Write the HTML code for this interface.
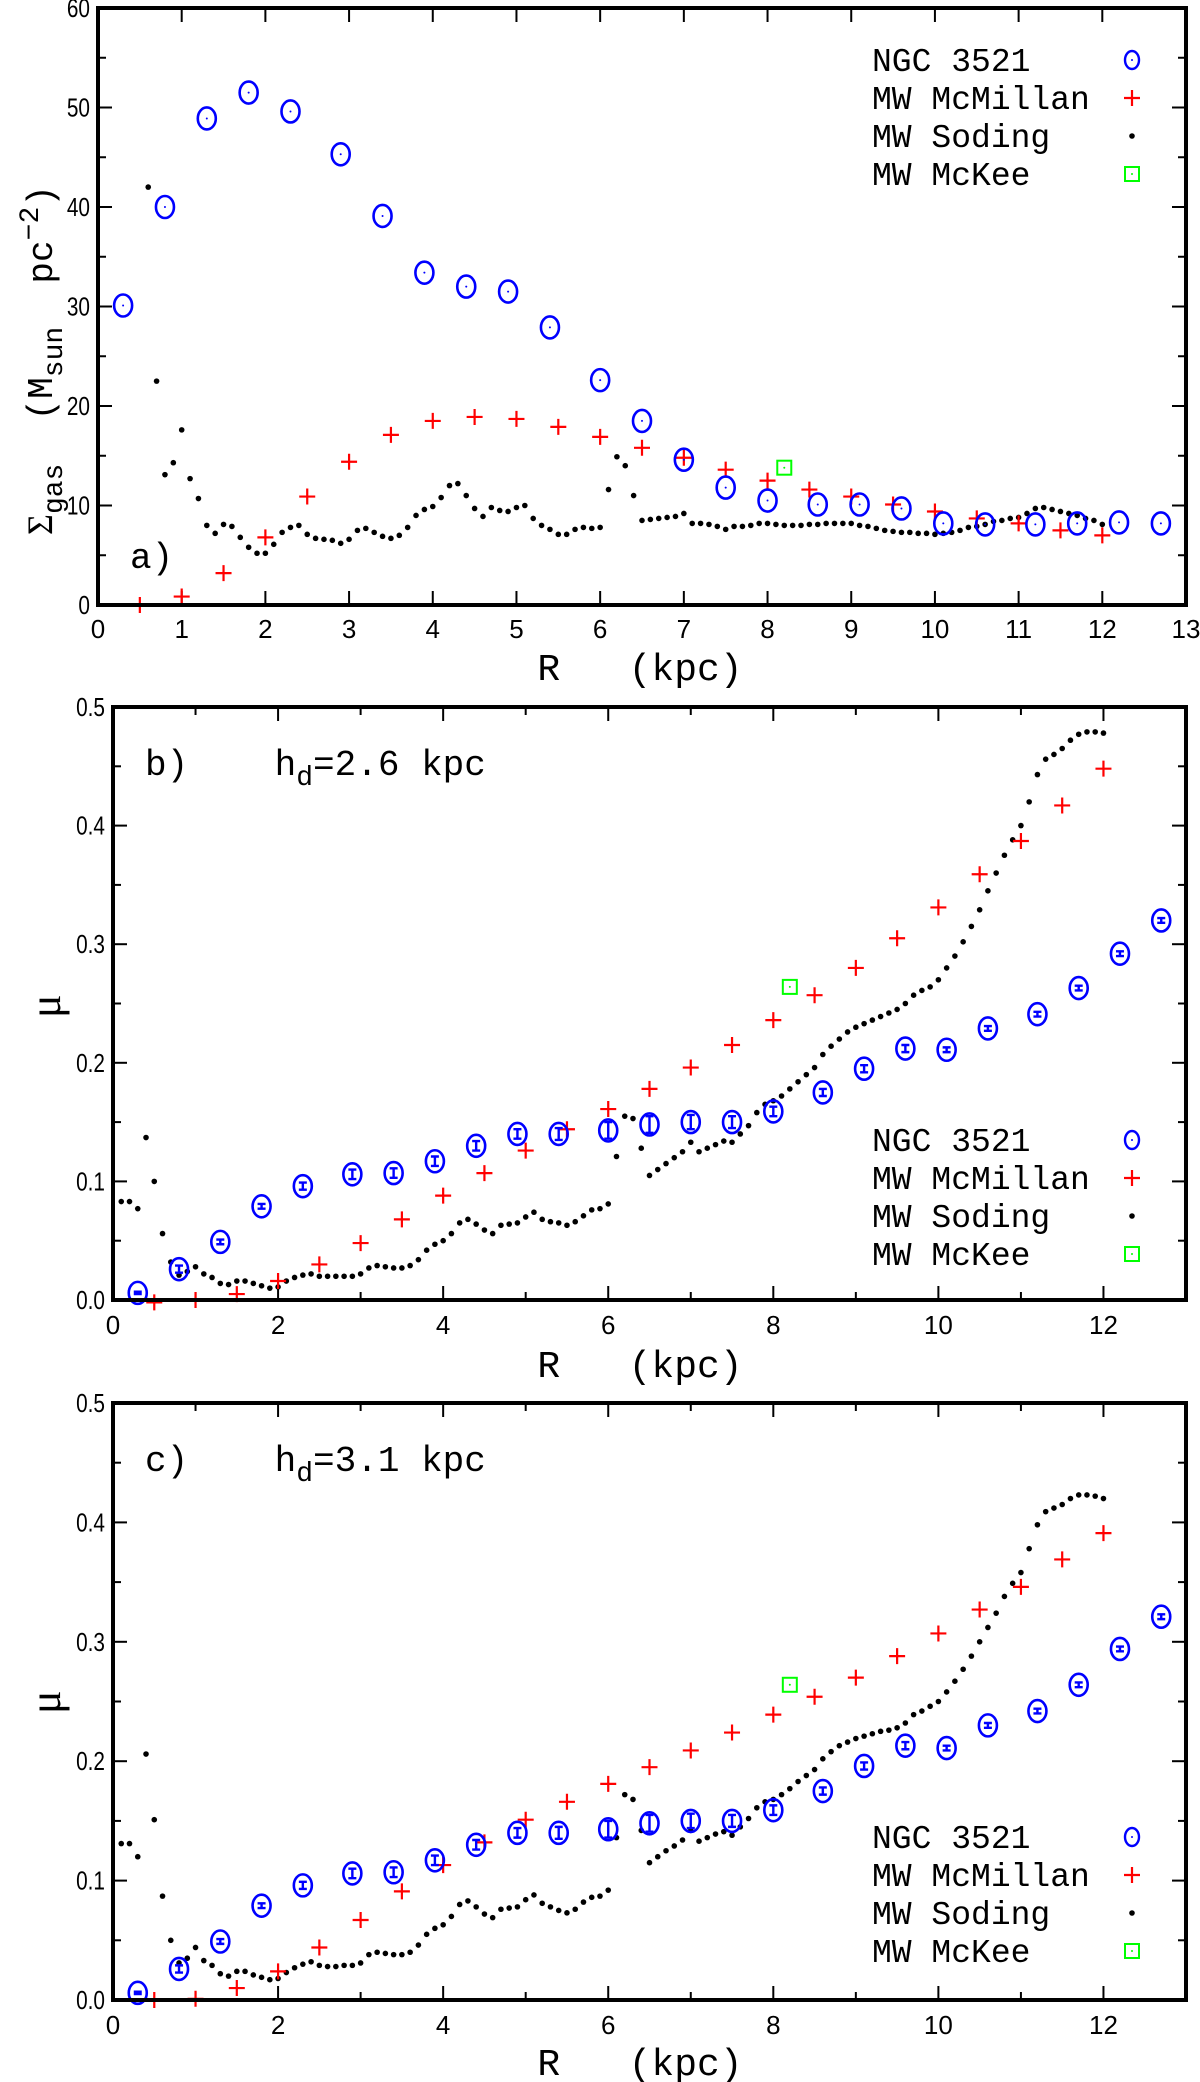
<!DOCTYPE html>
<html><head><meta charset="utf-8"><style>
html,body{margin:0;padding:0;background:#fff;}
svg{display:block;}
text{white-space:pre;}
.tk{font-family:"Liberation Sans",sans-serif;font-size:26px;fill:#000;}
.mono{font-family:"Liberation Mono",monospace;fill:#000;}
</style></head><body>
<svg id="fig" width="1200" height="2082" viewBox="0 0 1200 2082" xmlns="http://www.w3.org/2000/svg"></svg>
<script>
// ---- Panel a data ----
const ngcR = [0.3,0.8,1.3,1.8,2.3,2.9,3.4,3.9,4.4,4.9,5.4,6.0,6.5,7.0,7.5,8.0,8.6,9.1,9.6,10.1,10.6,11.2,11.7,12.2,12.7];
const ngcSigma = [30.1,40.0,48.9,51.5,49.6,45.3,39.1,33.4,32.0,31.5,27.9,22.6,18.5,14.6,11.8,10.5,10.1,10.1,9.7,8.2,8.1,8.1,8.2,8.3,8.2];
const mcmR = [0.5,1,1.5,2,2.5,3,3.5,4,4.5,5,5.5,6,6.5,7,7.5,8,8.5,9,9.5,10,10.5,11,11.5,12];
const mcmSigma = [0,0.85,3.2,6.8,10.9,14.4,17.1,18.5,18.9,18.7,17.9,16.9,15.8,14.8,13.6,12.5,11.6,10.9,10.1,9.4,8.7,8.2,7.5,7.0];
const mckeeR = [8.2];
const mckeeSigma = [13.8];
const mckeeMu = [0.264];
const sodRa = [0.6,0.7,0.8,0.9,1.0,1.1,1.2,1.3,1.4,1.5,1.6,1.7,1.8,1.9,2.0,2.1,2.2,2.3,2.4,2.5,2.6,2.7,2.8,2.9,3.0,3.1,3.2,3.3,3.4,3.5,3.6,3.7,3.8,3.9,4.0,4.1,4.2,4.3,4.4,4.5,4.6,4.7,4.8,4.9,5.0,5.1,5.2,5.3,5.4,5.5,5.6,5.7,5.8,5.9,6.0,6.1,6.2,6.3,6.4,6.5,6.6,6.7,6.8,6.9,7.0,7.1,7.2,7.3,7.4,7.5,7.6,7.7,7.8,7.9,8.0,8.1,8.2,8.3,8.4,8.5,8.6,8.7,8.8,8.9,9.0,9.1,9.2,9.3,9.4,9.5,9.6,9.7,9.8,9.9,10.0,10.1,10.2,10.3,10.4,10.5,10.6,10.7,10.8,10.9,11.0,11.1,11.2,11.3,11.4,11.5,11.6,11.7,11.8,11.9,12.0];
const sodSigma = [42.0,22.5,13.1,14.3,17.6,12.7,10.7,8.0,7.2,8.1,7.9,6.8,5.8,5.2,5.2,6.1,7.3,7.8,8.0,7.1,6.7,6.6,6.5,6.2,6.6,7.5,7.7,7.3,6.9,6.7,7.0,7.8,9.0,9.6,9.9,10.8,12.0,12.2,11.0,9.7,8.9,9.8,9.5,9.4,9.8,10.0,8.7,8.0,7.6,7.1,7.1,7.6,7.8,7.7,7.8,11.6,14.9,14.0,11.0,8.5,8.6,8.7,8.8,8.9,9.2,8.2,8.2,8.1,7.9,7.6,7.9,7.9,8.0,8.2,8.2,8.1,8.0,8.0,8.0,8.1,8.1,8.2,8.2,8.2,8.2,8.0,7.9,7.7,7.5,7.4,7.3,7.3,7.2,7.2,7.1,7.2,7.3,7.5,7.8,7.9,8.1,8.4,8.5,8.7,8.8,9.2,9.7,9.8,9.6,9.4,9.2,9.0,8.7,8.5,8.1];
// ---- Panel b data (hd=2.6) ----
const ngcMuB = [0.006,0.026,0.049,0.079,0.096,0.106,0.107,0.117,0.130,0.140,0.140,0.143,0.148,0.150,0.150,0.159,0.175,0.195,0.212,0.211,0.229,0.241,0.263,0.292,0.320];
const ngcErr = [0.001,0.003,0.002,0.002,0.003,0.004,0.004,0.004,0.004,0.004,0.005,0.007,0.007,0.006,0.005,0.004,0.003,0.003,0.003,0.002,0.002,0.002,0.002,0.002,0.002];
const mcmMuB = [-0.002,0.0,0.005,0.016,0.030,0.048,0.068,0.088,0.107,0.126,0.144,0.161,0.178,0.196,0.215,0.236,0.257,0.280,0.305,0.331,0.359,0.387,0.417,0.448];
const sodRb = [0.1,0.2,0.3,0.4,0.5].concat(sodRa.slice(0));
const sodMuB = [0.083,0.083,0.077,0.137,0.100,0.056,0.032,0.021,0.024,0.028,0.022,0.019,0.014,0.013,0.016,0.016,0.014,0.012,0.010,0.011,0.016,0.019,0.021,0.022,0.020,0.020,0.020,0.020,0.020,0.022,0.027,0.029,0.028,0.027,0.027,0.029,0.034,0.042,0.047,0.050,0.056,0.065,0.068,0.064,0.059,0.056,0.063,0.064,0.065,0.070,0.074,0.068,0.066,0.065,0.063,0.066,0.071,0.076,0.077,0.081,0.121,0.155,0.153,0.128,0.105,0.110,0.115,0.120,0.125,0.133,0.125,0.128,0.131,0.134,0.133,0.140,0.147,0.158,0.165,0.168,0.172,0.178,0.184,0.190,0.196,0.207,0.214,0.220,0.226,0.230,0.233,0.236,0.239,0.242,0.245,0.250,0.257,0.261,0.264,0.270,0.280,0.290,0.302,0.315,0.329,0.345,0.360,0.375,0.388,0.400,0.420,0.443,0.456,0.460,0.465,0.472,0.477,0.479,0.479,0.478];
// ---- Panel c data (hd=3.1) ----
const ngcMuC = [0.006,0.026,0.049,0.079,0.096,0.106,0.107,0.117,0.130,0.140,0.140,0.143,0.148,0.150,0.150,0.159,0.175,0.196,0.213,0.211,0.230,0.242,0.264,0.294,0.321];
const mcmMuC = [0,0.001,0.010,0.024,0.044,0.067,0.091,0.113,0.132,0.151,0.166,0.181,0.195,0.209,0.224,0.239,0.254,0.270,0.288,0.307,0.327,0.346,0.369,0.391];
const sodMuC = [0.131,0.131,0.120,0.206,0.151,0.087,0.050,0.031,0.035,0.044,0.033,0.029,0.022,0.020,0.024,0.024,0.021,0.019,0.017,0.018,0.023,0.027,0.030,0.032,0.029,0.028,0.028,0.029,0.029,0.031,0.038,0.040,0.039,0.038,0.038,0.040,0.046,0.055,0.060,0.063,0.070,0.080,0.083,0.078,0.072,0.069,0.076,0.077,0.078,0.084,0.088,0.081,0.078,0.075,0.073,0.076,0.082,0.086,0.087,0.092,0.136,0.172,0.168,0.142,0.115,0.120,0.125,0.129,0.134,0.142,0.133,0.136,0.139,0.141,0.138,0.145,0.152,0.161,0.166,0.168,0.172,0.177,0.183,0.188,0.193,0.202,0.208,0.213,0.216,0.219,0.221,0.223,0.225,0.226,0.228,0.232,0.239,0.242,0.246,0.250,0.258,0.267,0.277,0.288,0.300,0.312,0.324,0.338,0.349,0.358,0.378,0.398,0.409,0.412,0.415,0.420,0.423,0.423,0.422,0.420];
const yTicksA = ["0","10","20","30","40","50","60"];
const yTicksMu = ["0.0","0.1","0.2","0.3","0.4","0.5"];

const svg = document.getElementById('fig');
const NS = 'http://www.w3.org/2000/svg';
function mk(tag, attrs, parent){const e=document.createElementNS(NS,tag);for(const k in attrs)e.setAttribute(k,attrs[k]);(parent||svg).appendChild(e);return e;}

function panel(cfg){
  const g = mk('g',{});
  
  
  const {L,R,T,B,xmax,ymax} = cfg;
  const X = v => L + v/xmax*(R-L);
  const Y = v => B - v/ymax*(B-T);
  const tg = mk('g',{stroke:'#000','stroke-width':2},g);
  for(let v=0; v<=xmax+1e-9; v+=cfg.xminor){
    const major = Math.abs(v/cfg.xmajor-Math.round(v/cfg.xmajor))<1e-6;
    const len = major?14:8;
    mk('line',{x1:X(v),x2:X(v),y1:B,y2:B-len},tg);
    mk('line',{x1:X(v),x2:X(v),y1:T,y2:T+len},tg);
    if(major){
      const t=mk('text',{x:X(v),y:cfg.xlabY,'text-anchor':'middle',class:'tk'},g);
      t.textContent = String(Math.round(v));
      
      
    }
  }
  for(let i=0;i*cfg.yminor<=ymax+1e-9;i++){
    const v=i*cfg.yminor;
    const major = i%2===0;
    const len = major?14:8;
    mk('line',{x1:L,x2:L+len,y1:Y(v),y2:Y(v)},tg);
    mk('line',{x1:R,x2:R-len,y1:Y(v),y2:Y(v)},tg);
  }
  cfg.yTicks.forEach((lab,i)=>{
    const v=i*cfg.yminor*2;
    const t=mk('text',{x:L-8,y:Y(v)+9,'text-anchor':'end',class:'tk',transform:`translate(${L-8},0) scale(0.8,1) translate(${-(L-8)},0)`},g);
    t.textContent=lab;
    
    
  });
  const sg = mk('g',{fill:'#000'},g);
  
  
  cfg.sodR.forEach((r,i)=>{
    const c=mk('circle',{cx:X(r),cy:Y(cfg.sodY[i]),r:2.8},sg);
    
    
  });
  const mg = mk('g',{stroke:'#ff0000','stroke-width':2.2},g);
  
  
  mcmR.forEach((r,i)=>{
    const x=X(r), y=Y(cfg.mcmY[i]);
    const p=mk('path',{d:`M${x-8},${y}H${x+8}M${x},${y-8}V${y+8}`},mg);
    
    
  });
  const ng = mk('g',{stroke:'#0000ff','stroke-width':2.6,fill:'none'},g);
  
  
  ngcR.forEach((r,i)=>{
    const x=X(r), y=Y(cfg.ngcY[i]);
    const c=mk('ellipse',{cx:x,cy:y,rx:9,ry:cfg.err?11:11},ng);
    
    
    if(cfg.err){
      const e=cfg.err[i], y1=Y(cfg.ngcY[i]+e), y2=Y(cfg.ngcY[i]-e);
      mk('path',{d:`M${x},${y1}V${y2}M${x-4},${y1}H${x+4}M${x-4},${y2}H${x+4}`,'stroke-width':2.4},ng);
    } else {
      mk('circle',{cx:x,cy:y,r:1,fill:'#0000ff',stroke:'none'},ng);
    }
  });
  const kx=X(mckeeR[0]), ky=Y(cfg.mckeeY[0]);
  const k=mk('rect',{x:kx-7,y:ky-7,width:14,height:14,fill:'none',stroke:'#00ff00','stroke-width':2},g);
  
  
  mk('circle',{cx:kx,cy:ky,r:1,fill:'#00ff00'},g);
  const f=mk('rect',{x:L,y:T,width:R-L,height:B-T,fill:'none',stroke:'#000','stroke-width':4},g);
  
  
  const lg=mk('g',{},g);
  
  
  const names=['NGC 3521','MW McMillan','MW Soding','MW McKee'];
  names.forEach((n,i)=>{
    const y=cfg.legY+i*38;
    const t=mk('text',{x:872,y:y+11,class:'mono','font-size':33},lg);
    t.textContent=n;
    
    
    const sx=1132;
    if(i===0){mk('ellipse',{cx:sx,cy:y,rx:7,ry:9,fill:'none',stroke:'#0000ff','stroke-width':2.4},lg);mk('circle',{cx:sx,cy:y,r:1,fill:'#0000ff'},lg);}
    if(i===1){mk('path',{d:`M${sx-8},${y}H${sx+8}M${sx},${y-8}V${y+8}`,stroke:'#ff0000','stroke-width':2.2},lg);}
    if(i===2){mk('circle',{cx:sx,cy:y,r:2.8,fill:'#000'},lg);}
    if(i===3){mk('rect',{x:sx-7,y:y-7,width:14,height:14,fill:'none',stroke:'#00ff00','stroke-width':2},lg);mk('circle',{cx:sx,cy:y,r:1,fill:'#00ff00'},lg);}
  });
  const xt=mk('text',{x:cfg.xtitleX,y:cfg.xtitleY,class:'mono','font-size':38,'text-anchor':'middle'},g);
  xt.textContent='R   (kpc)';
  
  
  return {g,X,Y};
}

const pa = panel({name:'panel-a',L:98,R:1186,T:8,B:605,xmax:13,ymax:60,xmajor:1,xminor:1,yminor:5,yTicks:yTicksA,xlabY:638,
  sodR:sodRa,sodY:sodSigma,mcmY:mcmSigma,ngcY:ngcSigma,err:null,mckeeY:mckeeSigma,legY:60,xtitleX:640,xtitleY:680});
{
  const t=mk('text',{x:130,y:568,class:'mono','font-size':36},pa.g);t.textContent='a)';
  
  
  const yt=mk('text',{x:0,y:0,class:'mono','font-size':36,transform:'translate(52,535) rotate(-90)'},pa.g);
  yt.innerHTML='<tspan font-family="Liberation Serif,serif">Σ</tspan><tspan dy="10" font-size="28">gas</tspan><tspan dy="-10">  (M</tspan><tspan dy="10" font-size="28">sun</tspan><tspan dy="-10">  pc</tspan><tspan dy="-14" font-size="28">−2</tspan><tspan dy="14">)</tspan>';
  
  
}
const pb = panel({name:'panel-b',L:113,R:1186,T:707,B:1300,xmax:13,ymax:0.5,xmajor:2,xminor:1,yminor:0.05,yTicks:yTicksMu,xlabY:1334,
  sodR:sodRb,sodY:sodMuB,mcmY:mcmMuB,ngcY:ngcMuB,err:ngcErr,mckeeY:mckeeMu,legY:1140,xtitleX:640,xtitleY:1377});
const pc = panel({name:'panel-c',L:113,R:1186,T:1403,B:2000,xmax:13,ymax:0.5,xmajor:2,xminor:1,yminor:0.05,yTicks:yTicksMu,xlabY:2034,
  sodR:sodRb,sodY:sodMuC,mcmY:mcmMuC,ngcY:ngcMuC,err:ngcErr,mckeeY:mckeeMu,legY:1837,xtitleX:640,xtitleY:2075});
[[pb,'b)','2.6',775,1018],[pc,'c)','3.1',1471,1714]].forEach(([p,l,h,y,my])=>{
  const t=mk('text',{x:145,y:y,class:'mono','font-size':36},p.g);
  t.innerHTML=l+'    h<tspan dy="10" font-size="28">d</tspan><tspan dy="-10">='+h+' kpc</tspan>';
  
  
  const m=mk('text',{x:0,y:0,'font-family':'Liberation Serif,serif','font-size':44,transform:`translate(60,${my}) rotate(-90)`},p.g);
  m.textContent='μ';
  
  
});
</script>
</body></html>
